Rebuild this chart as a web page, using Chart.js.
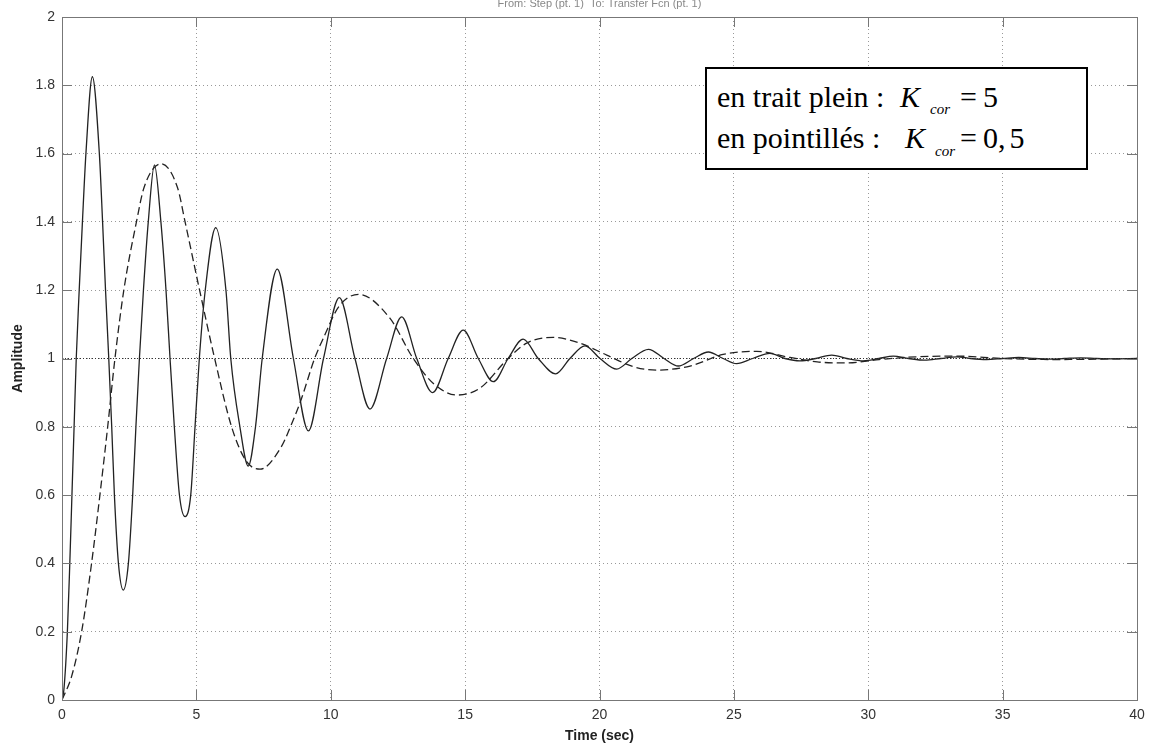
<!DOCTYPE html>
<html>
<head>
<meta charset="utf-8">
<script src="https://cdn.jsdelivr.net/npm/chart.js@4.4.1/dist/chart.umd.min.js"></script>
<style>
  body { margin: 0; background: #fff; }
  #wrap { position: relative; width: 1153px; height: 747px; }
  #note {
    position: absolute; left: 705px; top: 67px; width: 379px; height: 99px;
    border: 2px solid #000; background: #fff; color: #000;
    font-family: "Liberation Serif", "Times New Roman", serif; font-size: 30px; line-height: 30px;
  }
  #note > span { position: absolute; white-space: nowrap; }
  #note .sub { font-size: 15px; line-height: 15px; font-style: italic; }
  #note .gap { margin-left: 4px; }
</style>
</head>
<body>
<div id="wrap">
  <canvas id="chart" width="1153" height="747"></canvas>
  <div id="note">
    <span style="left:10px; top:13px">en trait plein :</span>
    <span style="left:193px; top:13px; font-style:italic">K</span>
    <span class="sub" style="left:223px; top:33px">cor</span>
    <span style="left:253px; top:13px">=</span>
    <span style="left:276px; top:13px">5</span>
    <span style="left:10px; top:54px">en pointillés :</span>
    <span style="left:198px; top:54px; font-style:italic">K</span>
    <span class="sub" style="left:228px; top:75px">cor</span>
    <span style="left:253px; top:54px">=</span>
    <span style="left:276px; top:54px">0,<span class="gap">5</span></span>
  </div>
</div>
<script>
// tick labels
var xTickLabels = ['0', '5', '10', '15', '20', '25', '30', '35', '40'];
var yTickLabels = ['0', '0.2', '0.4', '0.6', '0.8', '1', '1.2', '1.4', '1.6', '1.8', '2'];

// K_cor = 5 (solid)
var tSolid = [0, 0.07, 0.2, 0.29, 0.37, 0.45, 0.53, 0.64, 0.76, 0.89, 1.13, 1.39, 1.51, 1.62, 1.74, 1.85, 1.95, 2.1, 2.28, 2.47,
  2.63, 2.75, 2.88, 3.03, 3.21, 3.44, 3.68, 3.87, 4.02, 4.18, 4.37, 4.58, 4.79, 4.95, 5.11, 5.33, 5.72, 6.1, 6.28, 6.62,
  6.93, 7.2, 7.45, 8.01, 8.61, 9.17, 9.73, 10.32, 10.9, 11.46, 12.08, 12.64, 13.2, 13.79, 14.37, 14.93, 15.49, 16.05, 16.6, 17.16,
  17.72, 18.37, 18.9, 19.46, 20.02, 20.64, 21.2, 21.82, 22.4, 22.93, 23.5, 24.05, 24.6, 25.1, 25.7, 26.34, 26.9, 27.46, 28.05, 28.64,
  29.2, 29.82, 30.4, 30.93, 31.5, 32.1, 32.7, 33.3, 33.8, 34.4, 35.0, 35.6, 36.2, 36.7, 37.3, 37.9, 38.5, 39.1, 40];
var ySolid = [0, 0.03, 0.2, 0.4, 0.6, 0.8, 1.0, 1.2, 1.4, 1.6, 1.825, 1.6, 1.4, 1.2, 1.0, 0.8, 0.6, 0.4, 0.322, 0.4,
  0.6, 0.8, 1.0, 1.2, 1.4, 1.567, 1.4, 1.2, 1.0, 0.8, 0.6, 0.537, 0.6, 0.8, 1.0, 1.2, 1.383, 1.2, 1.0, 0.8,
  0.685, 0.8, 1.0, 1.262, 1.0, 0.788, 1.0, 1.178, 1.0, 0.852, 1.0, 1.122, 1.0, 0.9, 1.0, 1.083, 1.0, 0.932, 1.0, 1.057,
  1.0, 0.955, 1.0, 1.037, 1.0, 0.969, 1.0, 1.027, 1.0, 0.978, 1.0, 1.019, 1.0, 0.985, 1.0, 1.015, 1.0, 0.993, 1.0, 1.01,
  1.0, 0.993, 1.0, 1.007, 1.0, 0.995, 1.0, 1.005, 1.0, 0.997, 1.0, 1.003, 1.0, 0.998, 1.0, 1.002, 1.0, 0.999, 1.0];

// K_cor = 0,5 (dashed)
var tDashed = [0, 0.36, 0.73, 1.1, 1.41, 1.7, 1.97, 2.3, 2.77, 3.05, 3.68, 4.3, 4.58, 5.12, 5.68, 6.31, 6.85, 7.37, 8.15, 8.5,
  8.9, 9.4, 9.75, 10.3, 11.03, 12.2, 13.07, 13.82, 14.69, 15.55, 16.55, 17.29, 18.28, 19.27, 20.27, 21.26, 22.13, 23.37, 24.6, 25.85,
  27.09, 28.1, 29.19, 30.4, 31.8, 33.29, 35.0, 37.0, 40];
var yDashed = [0, 0.07, 0.2, 0.4, 0.6, 0.8, 1.0, 1.2, 1.4, 1.5, 1.57, 1.5, 1.4, 1.2, 1.0, 0.8, 0.7, 0.676, 0.74, 0.8,
  0.88, 1.0, 1.064, 1.152, 1.188, 1.118, 1.0, 0.927, 0.893, 0.913, 0.996, 1.045, 1.062, 1.045, 1.01, 0.976, 0.966, 0.978, 1.012, 1.021,
  1.003, 0.99, 0.987, 0.997, 1.005, 1.007, 1.0, 0.997, 1.0];

// steady state line
var tFinal = [0, 40];
var yFinal = [1, 1];

function pts(xs, ys) {
  return xs.map(function (x, i) { return { x: x, y: ys[i] }; });
}

// inward tick marks + box, matlab style
var frame = {
  id: 'frame',
  afterDatasetsDraw: function (chart) {
    var ctx = chart.ctx, a = chart.chartArea, sx = chart.scales.x, sy = chart.scales.y;
    ctx.save();
    ctx.strokeStyle = '#777';
    ctx.lineWidth = 1;
    ctx.beginPath();
    sx.ticks.forEach(function (t) {
      var px = Math.round(sx.getPixelForValue(t.value)) + 0.5;
      ctx.moveTo(px, a.bottom); ctx.lineTo(px, a.bottom - 10);
      ctx.moveTo(px, a.top); ctx.lineTo(px, a.top + 10);
    });
    sy.ticks.forEach(function (t) {
      var py = Math.round(sy.getPixelForValue(t.value)) + 0.5;
      ctx.moveTo(a.left, py); ctx.lineTo(a.left + 10, py);
      ctx.moveTo(a.right, py); ctx.lineTo(a.right - 10, py);
    });
    ctx.stroke();
    ctx.strokeRect(Math.round(a.left) + 0.5, Math.round(a.top) + 0.5, Math.round(a.width), Math.round(a.height));
    ctx.restore();
  }
};

var font = 'Liberation Sans, Arial, sans-serif';

new Chart(document.getElementById('chart'), {
  type: 'line',
  data: {
    datasets: [{
      data: pts(tFinal, yFinal),
      borderColor: '#333',
      borderWidth: 1,
      borderDash: [1, 2],
      pointRadius: 0
    }, {
      data: pts(tDashed, yDashed),
      borderColor: '#222',
      borderWidth: 1.3,
      borderDash: [8, 4],
      pointRadius: 0,
      cubicInterpolationMode: 'monotone'
    }, {
      data: pts(tSolid, ySolid),
      borderColor: '#222',
      borderWidth: 1.3,
      pointRadius: 0,
      cubicInterpolationMode: 'monotone'
    }]
  },
  options: {
    responsive: false,
    animation: false,
    layout: { padding: { left: 0, right: 16, top: 0, bottom: 0 } },
    scales: {
      x: {
        type: 'linear',
        min: 0,
        max: 40,
        afterFit: function (s) { s.height = 47; },
        ticks: {
          stepSize: 5,
          padding: 7,
          color: '#333',
          font: { family: font, size: 14 },
          maxRotation: 0,
          callback: function (v, i) { return xTickLabels[i]; }
        },
        grid: { color: '#999', lineWidth: 1, drawTicks: false },
        border: { color: '#777', dash: [1, 3] },
        title: {
          display: true,
          text: 'Time (sec)',
          color: '#222',
          font: { family: font, size: 14, weight: 'bold' },
          padding: { top: 0, bottom: 2 }
        }
      },
      y: {
        min: 0,
        max: 2,
        afterFit: function (s) { s.width = 62; },
        ticks: {
          stepSize: 0.2,
          padding: 7,
          color: '#333',
          font: { family: font, size: 14 },
          callback: function (v, i) { return yTickLabels[i]; }
        },
        grid: { color: '#999', lineWidth: 1, drawTicks: false },
        border: { color: '#777', dash: [1, 3] },
        title: {
          display: true,
          text: 'Amplitude',
          color: '#222',
          font: { family: font, size: 14, weight: 'bold' },
          padding: { top: 10, bottom: 0 }
        }
      }
    },
    plugins: {
      legend: { display: false },
      tooltip: { enabled: false },
      title: {
        display: true,
        fullSize: false,
        text: 'From: Step (pt. 1)  To: Transfer Fcn (pt. 1)',
        color: '#888',
        font: { family: font, size: 11, weight: 'normal', lineHeight: 0.7 },
        padding: { top: 0, bottom: 9.3 }
      }
    }
  },
  plugins: [frame]
});
</script>
</body>
</html>
